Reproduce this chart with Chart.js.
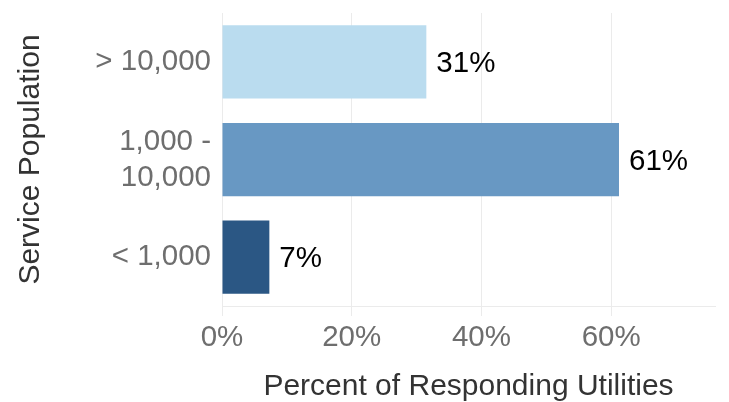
<!DOCTYPE html>
<html>
<head>
<meta charset="utf-8">
<script src="https://cdn.jsdelivr.net/npm/chart.js@4"></script>
<style>
  html, body { margin: 0; padding: 0; background: #ffffff; }
  #wrap { width: 729px; height: 402px; position: relative; }
</style>
</head>
<body>
<div id="wrap"><canvas id="c" width="729" height="402"></canvas></div>
<script>
const categories = ["> 10,000", ["1,000 -", "10,000"], "< 1,000"];
const percentValues = [31.5, 61.2, 7.3];
const valueLabels = ["31%", "61%", "7%"];
const barColors = ["#badcef", "#6898c3", "#2b5784"];
const xTickValues = [0, 20, 40, 60];
const xMax = 76;

const FONT = "'Liberation Sans', Arial, sans-serif";

const barLabelPlugin = {
  id: 'barLabels',
  afterDatasetsDraw(chart) {
    const ctx = chart.ctx;
    const meta = chart.getDatasetMeta(0);
    ctx.save();
    ctx.font = "29.5px " + FONT;
    ctx.fillStyle = "#000000";
    ctx.textAlign = "left";
    ctx.textBaseline = "middle";
    meta.data.forEach((bar, i) => {
      ctx.fillText(valueLabels[i], bar.x + 10, bar.y + 2);
    });
    ctx.restore();
  }
};

new Chart(document.getElementById('c'), {
  type: 'bar',
  data: {
    labels: categories,
    datasets: [{
      data: percentValues,
      backgroundColor: barColors,
      borderWidth: 0,
      categoryPercentage: 1.0,
      barPercentage: 0.75
    }]
  },
  options: {
    indexAxis: 'y',
    responsive: false,
    animation: false,
    devicePixelRatio: 1,
    layout: { padding: { left: 0, right: 14, top: 13, bottom: 0 } },
    plugins: { legend: { display: false }, tooltip: { enabled: false } },
    scales: {
      x: {
        min: 0,
        max: xMax,
        afterBuildTicks(scale) {
          scale.ticks = xTickValues.map(v => ({ value: v }));
        },
        afterFit(scale) {
          scale.height = 96;
          scale.paddingLeft = 0; scale.paddingRight = 0;
        },
        grid: { color: '#ebebeb', lineWidth: 1, tickLength: 10, drawTicks: true },
        border: { display: true, color: '#ebebeb' },
        ticks: {
          color: '#6e6e6e',
          font: { family: FONT, size: 29.5 },
          padding: 4,
          maxRotation: 0,
          callback: (v) => v + '%'
        },
        title: {
          display: true,
          text: 'Percent of Responding Utilities',
          color: '#333333',
          font: { family: FONT, size: 30, lineHeight: 1 },
          padding: { top: 0, bottom: 0 }
        }
      },
      y: {
        afterFit(scale) {
          scale.width = 222;
          scale.paddingTop = 0; scale.paddingBottom = 0;
        },
        grid: { display: false, drawTicks: false },
        border: { display: false },
        ticks: {
          color: '#6e6e6e',
          font: { family: FONT, size: 29.5, lineHeight: 1.22 },
          padding: 11
        },
        title: {
          display: true,
          text: 'Service Population',
          color: '#333333',
          font: { family: FONT, size: 30, lineHeight: 1.2 },
          padding: { top: 13, bottom: 0 }
        }
      }
    }
  },
  plugins: [barLabelPlugin]
});
</script>
</body>
</html>
